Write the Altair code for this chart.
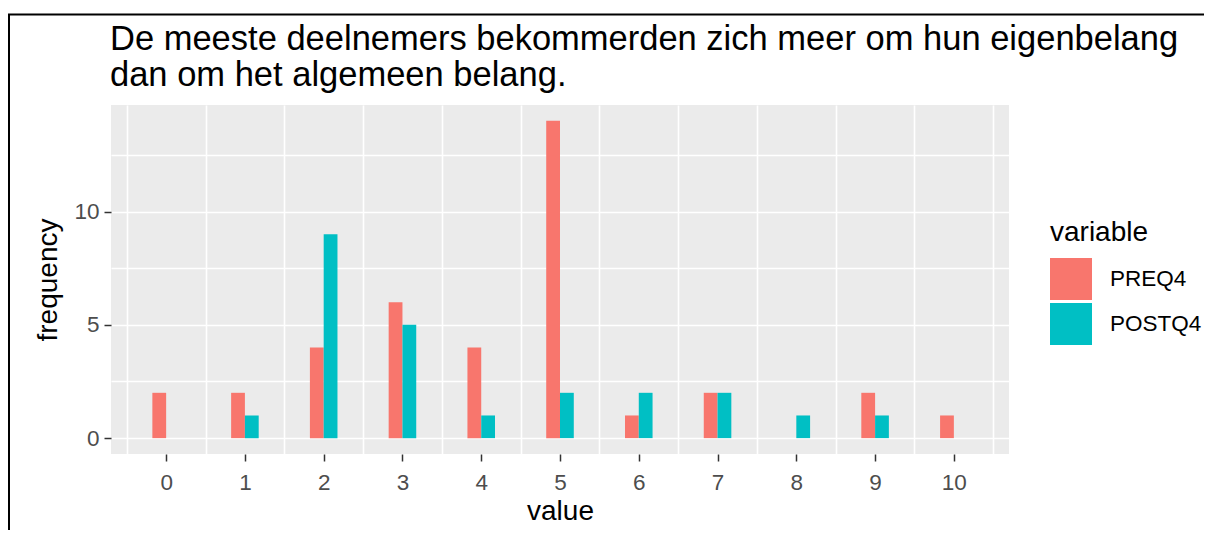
import altair as alt
import pandas as pd

# ---- data ----
values = [0, 1, 2, 3, 4, 5, 6, 7, 8, 9, 10]
preq4 = [2, 2, 4, 6, 4, 14, 1, 2, 0, 2, 1]
postq4 = [0, 1, 9, 5, 1, 2, 2, 2, 1, 1, 0]
series = ["PREQ4", "POSTQ4"]
colors = ["#F8766D", "#00BFC4"]

x_tick_values = [0, 1, 2, 3, 4, 5, 6, 7, 8, 9, 10]
x_grid_values = [-0.5, 0.5, 1.5, 2.5, 3.5, 4.5, 5.5, 6.5, 7.5, 8.5, 9.5, 10.5]
y_tick_values = [0, 5, 10]
y_grid_values = [0, 2.5, 5, 7.5, 10, 12.5]

title_lines = [
    "De meeste deelnemers bekommerden zich meer om hun eigenbelang",
    "dan om het algemeen belang.",
]
x_title = "value"
y_title = "frequency"
legend_title = "variable"

rows = []
for v, a, b in zip(values, preq4, postq4):
    rows.append({"value": v, "variable": series[0], "frequency": a})
    rows.append({"value": v, "variable": series[1], "frequency": b})
df = pd.DataFrame(rows)

FONT = "Liberation Sans"
x_axis_values = sorted(x_tick_values + x_grid_values)
y_axis_values = sorted(set(y_tick_values + y_grid_values))

x_scale = alt.Scale(domain=[-0.7, 10.7], nice=False, zero=False)
y_scale = alt.Scale(domain=[-0.7, 14.7], nice=False, zero=False)

x_axis = alt.Axis(
    values=x_axis_values, title=x_title, grid=True, gridColor="white", gridWidth=1.6,
    gridOpacity={"condition": {"test": "datum.value % 1 === 0", "value": 0}, "value": 1},
    tickOpacity={"condition": {"test": "datum.value % 1 === 0", "value": 1}, "value": 0},
    labelExpr="datum.value % 1 === 0 ? format(datum.value, 'd') : ''",
    domain=False, ticks=True, tickSize=7, tickColor="#333333", tickWidth=1.5,
    labelFont=FONT, labelFontSize=22.5, labelColor="#4D4D4D", labelPadding=10,
    labelFlush=False, labelOverlap=False,
    titleFont=FONT, titleFontSize=28, titleFontWeight="normal", titleColor="black",
    titlePadding=4,
)
y_axis = alt.Axis(
    values=y_axis_values, title=y_title, orient="left", grid=True, gridColor="white",
    gridWidth=1.6,
    tickOpacity={"condition": {"test": "datum.value % 5 === 0", "value": 1}, "value": 0},
    labelExpr="datum.value % 5 === 0 ? format(datum.value, 'd') : ''",
    domain=False, ticks=True, tickSize=7, tickColor="#333333", tickWidth=1.5,
    labelFont=FONT, labelFontSize=22.5, labelColor="#4D4D4D", labelPadding=5,
    labelFlush=False, labelOverlap=False,
    titleFont=FONT, titleFontSize=28, titleFontWeight="normal", titleColor="black",
    titlePadding=11,
)
legend = alt.Legend(
    title=legend_title, orient="none", legendX=939, legendY=114, padding=0,
    titleFont=FONT, titleFontSize=28, titleFontWeight="normal", titleColor="black",
    titlePadding=11,
    labelFont=FONT, labelFontSize=22.5, labelColor="black", labelOffset=18,
    symbolType="square", symbolSize=1764, symbolStrokeWidth=0, symbolOpacity=1,
    rowPadding=3,
)

bars = (
    alt.Chart(df)
    .transform_filter("datum.frequency > 0")
    .transform_calculate(
        x0=f"datum.value + (datum.variable === '{series[0]}' ? -0.175 : 0)"
    )
    .transform_calculate(x1="datum.x0 + 0.175")
    .mark_bar(opacity=1)
    .encode(
        x=alt.X("x0:Q", scale=x_scale, axis=x_axis),
        x2="x1:Q",
        y=alt.Y("frequency:Q", scale=y_scale, axis=y_axis),
        y2=alt.datum(0),
        color=alt.Color("variable:N", scale=alt.Scale(domain=series, range=colors),
                        legend=legend),
    )
)

one = pd.DataFrame({"k": [0]})
title_text = (
    alt.Chart(one)
    .mark_text(text=title_lines, align="left", baseline="alphabetic", fontSize=34.5,
               font=FONT, color="black", lineHeight=36)
    .encode(x=alt.value(-1), y=alt.value(-55))
)
top_rule = (
    alt.Chart(one).mark_rule(color="black", strokeWidth=2)
    .encode(x=alt.value(-103), x2=alt.value(1101), y=alt.value(-90.5))
)
left_rule = (
    alt.Chart(one).mark_rule(color="black", strokeWidth=2)
    .encode(x=alt.value(-102), y=alt.value(-90.5), y2=alt.value(440))
)

chart = (
    alt.layer(bars, title_text, top_rule, left_rule)
    .properties(
        width=898, height=349,
        autosize=alt.AutoSizeParams(type="none"),
        padding={"left": 103, "top": 97, "right": 195, "bottom": 76},
        background="white",
    )
    .configure_view(fill="#EBEBEB", stroke=None)
)

chart.save("out.html", embed_options={"renderer": "svg", "actions": False})
